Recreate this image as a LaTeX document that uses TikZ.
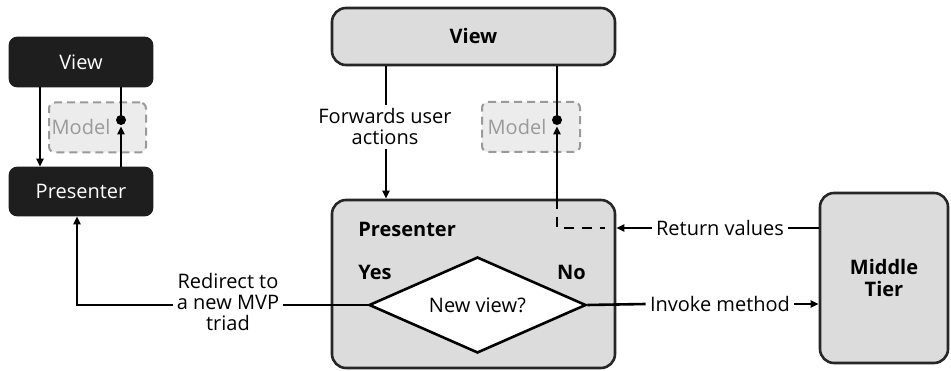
\documentclass[tikz,border=0pt]{standalone}
\usepackage{fontspec}
\setmainfont{Open Sans}
\usetikzlibrary{arrows.meta,shapes.geometric}
\definecolor{boxgray}{HTML}{DCDCDC}
\definecolor{modelfill}{HTML}{ECECEC}
\definecolor{modelline}{HTML}{9A9A9A}
\definecolor{darkfill}{HTML}{1E1E1E}
\begin{document}
\begin{tikzpicture}[x=1pt,y=-1pt,
  line width=2.6pt,
  arr/.style={-{Triangle[length=8pt,width=7pt]}},
  txt/.style={font=\fontsize{20}{23}\selectfont, inner sep=2pt},
  darkbox/.style={draw=darkfill, fill=darkfill, text=white, rounded corners=7pt,
    minimum width=142pt, minimum height=48pt, font=\fontsize{20}{23}\selectfont},
  graybox/.style={draw=black!85, fill=boxgray, rounded corners=14pt, line width=2.6pt},
  modelbox/.style={draw=modelline, dash pattern=on 8pt off 5pt, fill=modelfill,
    rounded corners=6pt, minimum width=97pt, minimum height=50pt, line width=2pt},
  modeltxt/.style={text=modelline, font=\fontsize{20}{23}\selectfont, inner sep=0pt},
  dotnode/.style={circle, fill=black, inner sep=0pt, minimum size=10pt},
  lbl/.style={font=\fontsize{20}{21}\selectfont, align=center, inner sep=3pt},
]
\useasboundingbox (0,0) rectangle (951,371);

% ---- left small MVP ----
\node[modelbox] (lm) at (97.5,127.5) {};
\node[modeltxt] (lmt) at (81,127) {Model};
\node[darkbox] (lv) at (81,62) {View};
\node[darkbox, minimum height=47pt] (lp) at (81,191.5) {Presenter};
\node[dotnode] (ld) at (121,120) {};
\draw[arr] (40,0 |- lv.south) -- (40,0 |- lp.north);
\draw (121,0 |- lv.south) -- (ld.center);
\draw[arr] (121,0 |- lp.north) -- (ld.south);

% ---- main ----
\node[graybox, minimum width=283pt, minimum height=57pt, font=\bfseries\fontsize{20}{23}\selectfont] (tv) at (473.5,36.5) {View};
\node[graybox, minimum width=283pt, minimum height=168pt] (pp) at (473.5,284) {};
\node[graybox, minimum width=128pt, minimum height=170pt, align=center,
  font=\bfseries\fontsize{20}{22}\selectfont] (mt) at (884,278) {Middle\\Tier};

\node[modelbox, minimum width=98pt] (mm) at (531,127) {};
\node[modeltxt] (mmt) at (517,127) {Model};
\node[dotnode] (md) at (557,120) {};

\node[txt, font=\bfseries\fontsize{20}{23}\selectfont, anchor=west] (ptitle) at (355,229) {Presenter};
\node[txt, font=\bfseries\fontsize{20}{23}\selectfont, anchor=west] (yes) at (355,272) {Yes};
\node[txt, font=\bfseries\fontsize{20}{23}\selectfont, anchor=east] (no) at (589,272) {No};

\node[diamond, draw=black, fill=white, line width=2.6pt, minimum width=217pt, minimum height=96pt,
  aspect=2.26, inner sep=0pt, font=\fontsize{20}{23}\selectfont] (dia) at (477.5,305) {New view?};

% forwards
\node[lbl] (fwd) at (385,127) {Forwards user\\actions};
\draw (386,0 |- tv.south) -- (386,0 |- fwd.north);
\draw[arr] (386,0 |- fwd.south) -- (386,0 |- pp.north);

% view -> model dot, presenter -> dot
\draw (557,0 |- tv.south) -- (md.center);
\draw[arr] (557,0 |- pp.north) -- (md.south);
\coordinate (dcorner) at (557,228);
\coordinate (dend) at (605,228);
\draw[dash pattern=on 10pt off 8pt] (557,0 |- pp.north) -- (dcorner) -- (dend);

% return values
\node[lbl] (ret) at (720,228) {Return values};
\draw (mt.west |- ret.east) -- (ret.east);
\draw[arr] (ret.west) -- (pp.east |- ret.west);

% invoke method
\node[lbl] (inv) at (720,304) {Invoke method};
\draw (dia.east) -- (inv.west);
\draw[arr] (inv.east) -- (mt.west |- inv.east);

% redirect
\node[lbl] (redir) at (228,302) {Redirect to\\a new MVP\\triad};
\draw (dia.west) -- (redir.east |- dia.west);
\draw[arr] (redir.west |- dia.west) -| (77,0 |- lp.south);
\end{tikzpicture}
\end{document}
